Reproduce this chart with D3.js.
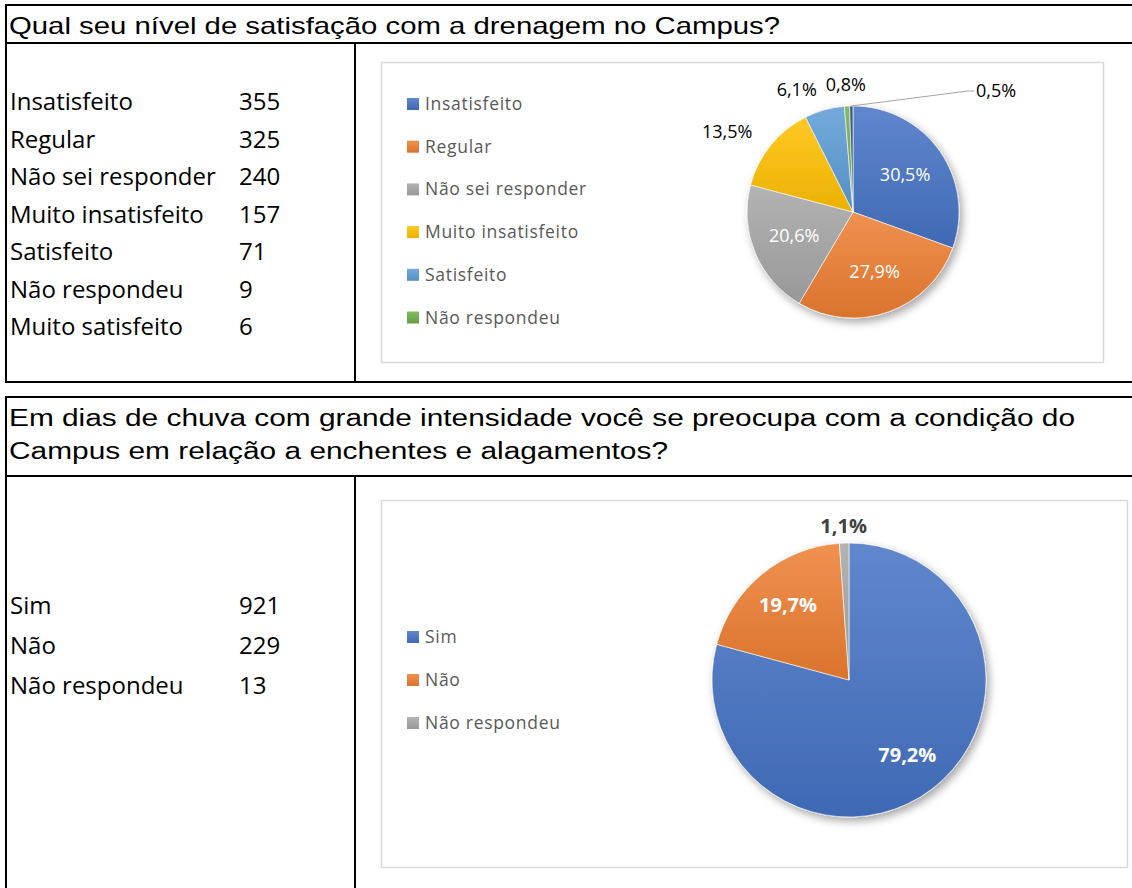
<!DOCTYPE html>
<meta charset="utf-8">
<style>
body { margin: 0; background: #fff; }
.title { font-family: "Liberation Sans", Arial, sans-serif; font-size: 24px; fill: #000; }
.title.q2 { font-size: 23px; }
.cell { font-family: "Open Sans", Lato, sans-serif; font-size: 24px; fill: #000; }
.legend text { font-family: "Open Sans", Lato, sans-serif; font-size: 17.5px; letter-spacing: 0.7px; fill: #595959; }
.lbl { font-family: "Open Sans", Lato, sans-serif; font-size: 18px; }
.lbl.b { font-size: 20px; font-weight: bold; }
</style>
<svg width="1132" height="888"></svg>
<script src="https://d3js.org/d3.v7.min.js"></script>
<script>
// question 1
var cat1 = ["Insatisfeito", "Regular", "Não sei responder", "Muito insatisfeito", "Satisfeito", "Não respondeu", "Muito satisfeito"];
var val1 = [355, 325, 240, 157, 71, 9, 6];
var col1 = ["#4472C4", "#ED7D31", "#A5A5A5", "#FFC000", "#5B9BD5", "#70AD47", "#264478"];
var legend1 = ["Insatisfeito", "Regular", "Não sei responder", "Muito insatisfeito", "Satisfeito", "Não respondeu"];
var title1 = ["Qual seu nível de satisfação com a drenagem no Campus?"];

// question 2
var cat2 = ["Sim", "Não", "Não respondeu"];
var val2 = [921, 229, 13];
var col2 = ["#4472C4", "#ED7D31", "#A5A5A5"];
var title2 = ["Em dias de chuva com grande intensidade você se preocupa com a condição do",
              "Campus em relação a enchentes e alagamentos?"];

var svg = d3.select("svg");
var defs = svg.append("defs");

defs.append("filter").attr("id", "shadow")
    .attr("x", "-20%").attr("y", "-20%").attr("width", "150%").attr("height", "150%")
  .append("feDropShadow")
    .attr("dx", 3).attr("dy", 4).attr("stdDeviation", 4)
    .attr("flood-color", "#000").attr("flood-opacity", 0.35);

function gradient(id, c) {
  var g = defs.append("linearGradient").attr("id", id)
      .attr("x1", 0).attr("y1", 0).attr("x2", 0).attr("y2", 1);
  g.append("stop").attr("offset", "0%").attr("stop-color", d3.interpolateRgb(c, "#fff")(0.15));
  g.append("stop").attr("offset", "100%").attr("stop-color", d3.interpolateRgb(c, "#000")(0.08));
}

// table frame
function frame(top, titleBottom, bottom) {
  var f = svg.append("g").attr("stroke", "#000").attr("stroke-width", 2);
  f.append("line").attr("x1", 5).attr("x2", 1132).attr("y1", top).attr("y2", top);
  f.append("line").attr("x1", 5).attr("x2", 1132).attr("y1", titleBottom).attr("y2", titleBottom);
  f.append("line").attr("x1", 6).attr("x2", 6).attr("y1", top).attr("y2", bottom);
  f.append("line").attr("x1", 355).attr("x2", 355).attr("y1", titleBottom).attr("y2", bottom);
  if (bottom < 888)
    f.append("line").attr("x1", 5).attr("x2", 1132).attr("y1", bottom).attr("y2", bottom);
}

// the scanned titles are wider than the font, so stretch them to the measured width
function title(lines, widths, y0, step, cls) {
  svg.append("g").selectAll("text").data(lines).enter().append("text")
      .attr("class", "title " + cls).attr("x", 9).attr("y", function(d, i) { return y0 + i * step; })
      .attr("textLength", function(d, i) { return widths[i]; })
      .attr("lengthAdjust", "spacingAndGlyphs")
      .text(function(d) { return d; });
}

function table(cats, vals, y0, step) {
  var y = d3.scaleLinear().domain([0, 1]).range([y0, y0 + step]);
  var g = svg.append("g");
  g.selectAll(".c").data(cats).enter().append("text")
      .attr("class", "cell").attr("x", 10).attr("y", function(d, i) { return y(i); })
      .text(function(d) { return d; });
  g.selectAll(".v").data(vals).enter().append("text")
      .attr("class", "cell").attr("x", 239).attr("y", function(d, i) { return y(i); })
      .text(function(d) { return d; });
}

function legend(names, cols, x0, y0, step) {
  var y = d3.scaleLinear().domain([0, 1]).range([y0, y0 + step]);
  var g = svg.append("g").attr("class", "legend");
  var it = g.selectAll("g").data(names).enter().append("g")
      .attr("transform", function(d, i) { return "translate(" + x0 + "," + y(i) + ")"; });
  it.append("rect").attr("x", 0).attr("y", -6).attr("width", 12).attr("height", 12)
      .attr("fill", function(d, i) { return "url(#" + cols[i] + ")"; });
  it.append("text").attr("x", 18).attr("y", 6).text(function(d) { return d; });
}

function pie(vals, cols, prefix, cx, cy, R, opts) {
  var arcs = d3.pie().sort(null)(vals);
  var arc = d3.arc().innerRadius(0).outerRadius(R);
  var inner = d3.arc().innerRadius(R * opts.inR).outerRadius(R * opts.inR);
  var outer = d3.arc().innerRadius(R + opts.outGap).outerRadius(R + opts.outGap);
  var total = d3.sum(vals);
  var fmt = function(v) { return (v / total * 100).toFixed(1).replace(".", ",") + "%"; };
  cols.forEach(function(c, i) { gradient(prefix + i, c); });

  var g = svg.append("g").attr("transform", "translate(" + cx + "," + cy + ")");
  g.append("g").attr("filter", "url(#shadow)")
    .selectAll("path").data(arcs).enter().append("path")
      .attr("d", arc)
      .attr("fill", function(d, i) { return "url(#" + prefix + i + ")"; })
      .attr("stroke", "#fff").attr("stroke-width", 0.6);

  arcs.forEach(function(d, i) {
    var share = d.value / total;
    var t = g.append("text").attr("class", opts.bold ? "lbl b" : "lbl")
        .text(fmt(d.value));
    if (share > opts.insideMin) {
      var p = inner.centroid(d);
      t.attr("x", p[0]).attr("y", p[1] + 6).attr("text-anchor", "middle").attr("fill", "#fff");
    } else if (opts.callout && i === arcs.length - 1) {
      // tiny last slice: label pulled to the right with a leader line
      var a = (d.startAngle + d.endAngle) / 2;
      var sx = Math.sin(a) * R, sy = -Math.cos(a) * R;
      var ex = R + 9, ey = sy - 15;
      g.append("polyline")
          .attr("points", [[sx, sy], [ex, ey], [ex + 6, ey]].map(String).join(" "))
          .attr("fill", "none").attr("stroke", "#A6A6A6").attr("stroke-width", 1);
      t.attr("x", ex + 8).attr("y", ey + 6).attr("fill", "#000");
    } else {
      var q = outer.centroid(d);
      var mid = (d.startAngle + d.endAngle) / 2;
      var anchor = Math.abs(Math.sin(mid)) < 0.15 ? "middle" : (Math.sin(mid) < 0 ? "end" : "start");
      t.attr("x", q[0] - (anchor === "end" ? 2 : 0)).attr("y", q[1] + 6).attr("text-anchor", anchor)
          .attr("fill", opts.bold ? "#404040" : "#000");
    }
  });
}

// ---- block 1
frame(5, 43, 382);
title(title1, [771], 34, 0, "q1");
table(cat1, val1, 110, 37.5);
svg.append("rect").attr("x", 381.5).attr("y", 62.5).attr("width", 722).attr("height", 300)
    .attr("fill", "#fff").attr("stroke", "#D9D9D9").attr("stroke-width", 1.5);
pie(val1, col1, "g1_", 853, 212, 106, {inR: 0.6, outGap: 21, insideMin: 0.15, bold: false, callout: true});
legend(legend1, d3.range(legend1.length).map(function(i) { return "g1_" + i; }), 407, 104, 42.7);

// ---- block 2
frame(397, 476, 900);
title(title2, [1066, 659], 426, 33, "q2");
table(cat2, val2, 614, 40);
svg.append("rect").attr("x", 381.5).attr("y", 500.5).attr("width", 746).attr("height", 367)
    .attr("fill", "#fff").attr("stroke", "#D9D9D9").attr("stroke-width", 1.5);
pie(val2, col2, "g2_", 849, 680, 137, {inR: 0.7, outGap: 16, insideMin: 0.05, bold: true, callout: false});
legend(cat2, d3.range(cat2.length).map(function(i) { return "g2_" + i; }), 407, 637, 43);
</script>
